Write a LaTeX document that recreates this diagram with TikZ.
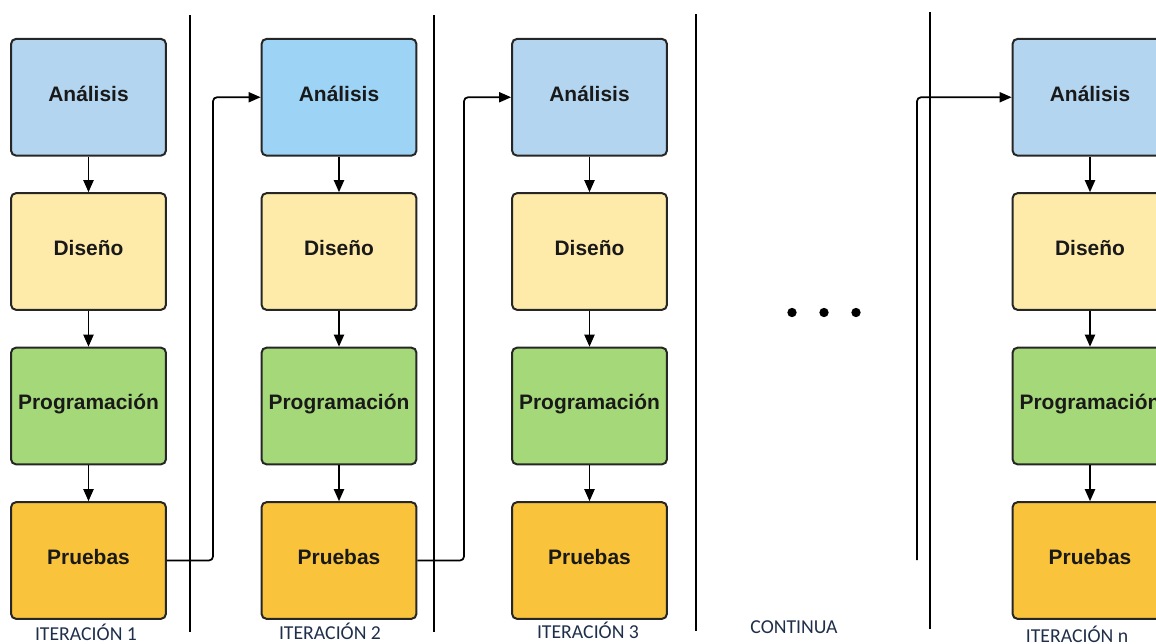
\documentclass[tikz,border=0pt]{standalone}
\usepackage{fontspec}
\setmainfont{Liberation Sans}
\newfontfamily\labfont{Carlito}
\usetikzlibrary{arrows.meta,positioning}
\definecolor{bluebox}{HTML}{B3D5F0}
\definecolor{bluebright}{HTML}{9DD3F5}
\definecolor{yellowbox}{HTML}{FFEBA9}
\definecolor{greenbox}{HTML}{A5D878}
\definecolor{orangebox}{HTML}{F9C33B}
\definecolor{edgecol}{HTML}{262626}
\definecolor{labcol}{HTML}{1F2F4A}
\tikzset{
  stagebox/.style={draw=edgecol, line width=1.5pt, rounded corners=3.5pt,
    minimum width=116pt, minimum height=87.4pt, inner sep=0pt,
    text height=5.8pt, text depth=0pt,
    font=\fontsize{15.7}{18}\selectfont\bfseries, text=black!90},
  flow/.style={draw=black, line width=1.4pt, -{Triangle[length=9pt,width=7.5pt]}},
  link/.style={draw=black, line width=1.3pt, rounded corners=3pt, -{Triangle[length=9pt,width=7.5pt]}},
  sepline/.style={draw=black, line width=1.7pt},
  itlabel/.style={font=\labfont\fontsize{14.8}{16}\selectfont, text=labcol, anchor=base, inner sep=0pt},
  dotmark/.style={circle, fill=black, minimum size=7pt, inner sep=0pt}
}
\begin{document}
\begin{tikzpicture}[x=0.75pt,y=-0.75pt]
\useasboundingbox (0,0) rectangle (1156,643);
\clip (0,0) rectangle (1156,643);
% separators
\draw[sepline] (190,15) -- (190,632);
\draw[sepline] (434,15) -- (434,632);
\draw[sepline] (696,14) -- (696,631);
\draw[sepline] (930,12) -- (930,629);
% columns
\foreach \c/\x/\acol in {1/88.5/bluebox, 2/339/bluebright, 3/589.5/bluebox, 4/1090/bluebox}{
  \node[stagebox, fill=\acol] (a\c) at (\x,97.25) {Análisis};
  \node[stagebox, fill=yellowbox] (d\c) at (\x,251.5) {Diseño};
  \node[stagebox, fill=greenbox] (p\c) at (\x,406) {Programación};
  \node[stagebox, fill=orangebox] (t\c) at (\x,560.5) {Pruebas};
  \draw[flow] (a\c) -- (d\c);
  \draw[flow] (d\c) -- (p\c);
  \draw[flow] (p\c) -- (t\c);
}
% links between iterations
\draw[link] (t1.east) -| (213,97.25) -- (a2.west);
\draw[link] (t2.east) -| (464,97.25) -- (a3.west);
\coordinate (cont) at (917,560);
\draw[link] (cont) |- (a4.west);
% dots
\node[dotmark] (dot1) at (792,312.5) {};
\node[dotmark] (dot2) at (824,312.5) {};
\node[dotmark] (dot3) at (856,312.5) {};
% labels
\node[itlabel] (l1) at (86,640.5) {ITERACIÓN 1};
\node[itlabel] (l2) at (330,639.5) {ITERACIÓN 2};
\node[itlabel] (l3) at (588,638.5) {ITERACIÓN 3};
\node[itlabel] (l4) at (794,633) {CONTINUA};
\node[itlabel] (l5) at (1077,642) {ITERACIÓN n};
\end{tikzpicture}
\end{document}
